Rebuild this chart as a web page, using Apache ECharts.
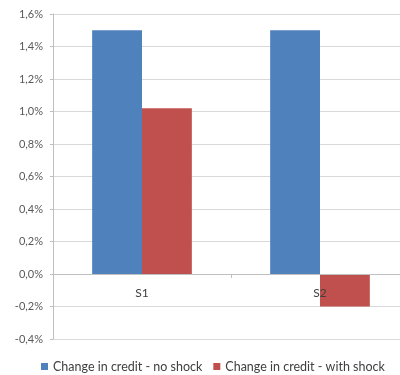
<!DOCTYPE html>
<html>
<head>
<meta charset="utf-8">
<script src="https://cdn.jsdelivr.net/npm/echarts@6/dist/echarts.min.js"></script>
<style>
  html, body { margin: 0; padding: 0; background: #fff; }
  #chart { width: 400px; height: 375px; }
</style>
</head>
<body>
<div id="chart"></div>
<script>
const categories = ["S1", "S2"];
const noShock = [1.5, 1.5];
const withShock = [1.02, -0.2];
const seriesNames = ["Change in credit - no shock", "Change in credit - with shock"];

const font = "Lato, 'Open Sans', sans-serif";
const gridColor = "#d9d9d9";

const chart = echarts.init(document.getElementById("chart"));
chart.setOption({
  animation: false,
  color: ["#4f81bd", "#c0504d"],
  textStyle: { fontFamily: font },
  legend: {
    top: 358,
    left: 36,
    width: 390,
    padding: [2, 5],
    itemWidth: 7,
    itemHeight: 7,
    itemGap: 11,
    icon: "rect",
    textStyle: { color: "#404040", fontSize: 12.5, fontFamily: font },
    data: seriesNames
  },
  grid: {
    left: 53,
    top: 14,
    right: -9,
    bottom: 36,
    outerBoundsMode: "none"
  },
  xAxis: {
    type: "category",
    data: categories,
    z: 5,
    // the category axis sits on the zero line, labels included
    offset: -65,
    axisLine: { onZero: false, lineStyle: { color: "#bfbfbf" } },
    axisTick: { show: true, length: 4, lineStyle: { color: "#bfbfbf" } },
    axisLabel: { color: "#404040", fontSize: 12, margin: 13 }
  },
  yAxis: {
    type: "value",
    min: -0.4,
    max: 1.6,
    interval: 0.2,
    axisLine: { show: true, lineStyle: { color: "#bfbfbf" } },
    axisTick: { show: true, length: 3, lineStyle: { color: "#bfbfbf" } },
    axisLabel: {
      color: "#595959",
      fontSize: 11,
      margin: 10,
      formatter: (v) => v.toFixed(1).replace(".", ",") + "%"
    },
    splitLine: { lineStyle: { color: gridColor } }
  },
  series: [
    {
      name: seriesNames[0],
      type: "bar",
      barGap: "0%",
      barCategoryGap: "44%",
      data: noShock
    },
    {
      name: seriesNames[1],
      type: "bar",
      data: withShock
    }
  ]
});
</script>
</body>
</html>
